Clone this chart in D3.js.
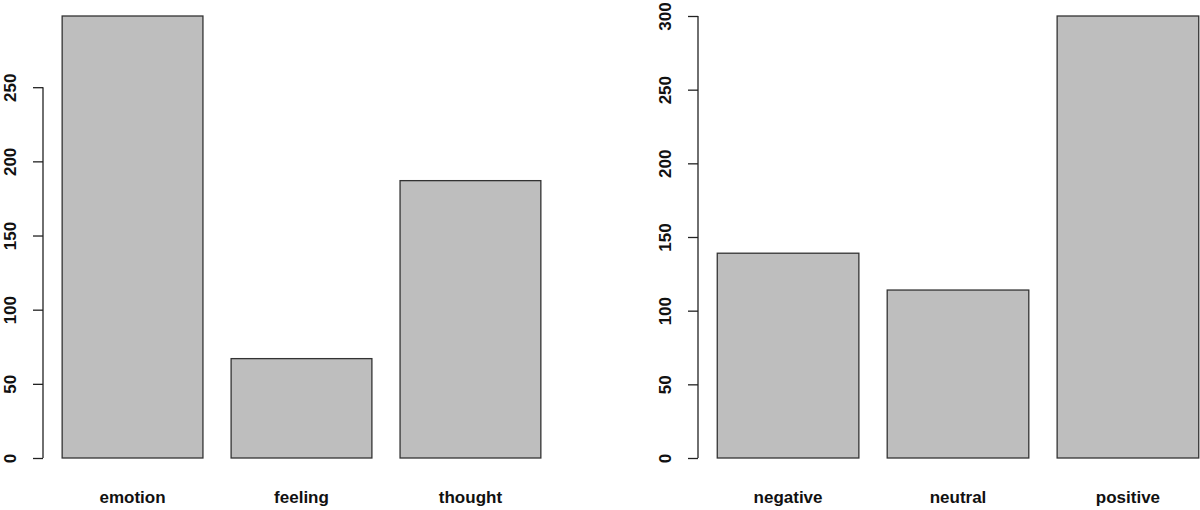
<!DOCTYPE html>
<html lang="en">
  <head>
    <meta charset="UTF-8" />
    <title>barplots</title>
    <script src="https://cdn.jsdelivr.net/npm/d3@7"></script>
    <style>
      body { margin: 0; background: #fff; }
      text { font-family: "Liberation Sans", Arial, sans-serif; font-weight: bold; fill: #111; }
    </style>
  </head>
  <body>
    <svg width="1200" height="510"></svg>
  </body>

  <script>
    // left panel: type counts
    var typeCats = ['emotion', 'feeling', 'thought'];
    var typeVals = [298, 67, 187];
    var typeTicks = [0, 50, 100, 150, 200, 250];

    // right panel: polarity counts
    var polCats = ['negative', 'neutral', 'positive'];
    var polVals = [139, 114, 300];
    var polTicks = [0, 50, 100, 150, 200, 250, 300];

    var svg = d3.select('svg');
    var baseY = 458; // y of value 0
    var topY = 16;   // y of the max value

    function panel(cats, vals, ticks, x0, x1) {
      var g = svg.append('g');

      // R barplot: width 1, space 0.2, 4% axis extension
      var scaleX = d3.scaleBand()
        .domain(cats)
        .range([x0, x1])
        .paddingInner(0.2 / 1.2)
        .paddingOuter(0.136 / 1.2);

      var scaleY = d3.scaleLinear()
        .domain([0, d3.max(vals)])
        .range([baseY, topY]);

      g.selectAll('rect')
        .data(vals)
        .enter()
        .append('rect')
        .attr('x', function (d, i) { return scaleX(cats[i]); })
        .attr('y', function (d) { return scaleY(d); })
        .attr('width', scaleX.bandwidth())
        .attr('height', function (d) { return baseY - scaleY(d); })
        .attr('fill', '#bebebe')
        .attr('stroke', '#333')
        .attr('stroke-width', 1.3);

      // y axis, only over the tick range
      var ax = g.append('g')
        .attr('transform', 'translate(' + x0 + ',0)')
        .call(d3.axisLeft(scaleY).tickValues(ticks).tickSize(10).tickSizeOuter(0).tickFormat(d3.format('d')));
      ax.select('.domain').remove();
      ax.selectAll('line').attr('stroke', '#222').attr('stroke-width', 1.3);
      ax.append('line')
        .attr('x1', 0).attr('x2', 0)
        .attr('y1', scaleY(ticks[0]))
        .attr('y2', scaleY(ticks[ticks.length - 1]))
        .attr('stroke', '#222')
        .attr('stroke-width', 1.3);
      ax.selectAll('text')
        .attr('transform', 'rotate(-90)')
        .attr('x', 0)
        .attr('y', -27)
        .attr('dy', 0)
        .attr('text-anchor', 'middle')
        .style('font-size', '17px')
        .style('font-family', '"Liberation Sans", Arial, sans-serif')
        .style('font-weight', 'bold')
        .attr('fill', '#111');

      // category names
      g.selectAll('.cat')
        .data(cats)
        .enter()
        .append('text')
        .attr('class', 'cat')
        .attr('x', function (d) { return scaleX(d) + scaleX.bandwidth() / 2; })
        .attr('y', 503)
        .attr('text-anchor', 'middle')
        .style('font-size', '17px')
        .text(function (d) { return d; });
    }

    panel(typeCats, typeVals, typeTicks, 43, 560);
    panel(polCats, polVals, polTicks, 698, 1218);
  </script>
</html>
